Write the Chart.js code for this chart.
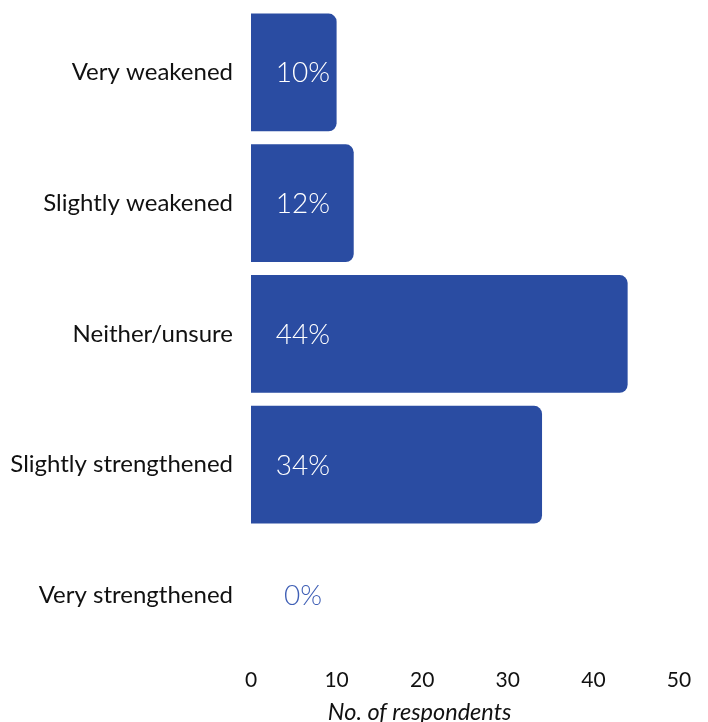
<!DOCTYPE html>
<html>
<head>
<meta charset="utf-8">
<script src="https://cdn.jsdelivr.net/npm/chart.js@4.4.0/dist/chart.umd.min.js"></script>
<style>
  html, body { margin: 0; padding: 0; background: #fff; }
  #wrap { width: 708px; height: 722px; }
</style>
</head>
<body>
<div id="wrap"><canvas id="chart"></canvas></div>
<script>
// categories and respondent counts
const categories = ['Very weakened', 'Slightly weakened', 'Neither/unsure', 'Slightly strengthened', 'Very strengthened'];
const respondents = [10, 12, 44, 34, 0];
const percentLabels = ['10%', '12%', '44%', '34%', '0%'];
const xTicks = [0, 10, 20, 30, 40, 50];
const axisTitle = 'No. of respondents';

const barColor = '#2a4ca2';

// percentage labels near the start of each bar, plus the x axis title
const percentPlugin = {
  id: 'percentLabels',
  afterDatasetsDraw(chart) {
    const ctx = chart.ctx;
    const meta = chart.getDatasetMeta(0);
    const xScale = chart.scales.x;
    ctx.save();
    ctx.font = '300 28px Lato';
    ctx.textAlign = 'center';
    ctx.textBaseline = 'middle';
    meta.data.forEach(function(bar, i) {
      ctx.fillStyle = respondents[i] > 0 ? '#ffffff' : '#3f5fb5';
      ctx.fillText(percentLabels[i], xScale.getPixelForValue(0) + 52, bar.y + 1);
    });
    ctx.font = 'italic 23.5px Lato';
    ctx.fillStyle = '#111';
    ctx.fillText(axisTitle, xScale.getPixelForValue(19.7), chart.height - 10);
    ctx.restore();
  }
};

new Chart(document.getElementById('chart'), {
  type: 'bar',
  data: {
    labels: categories,
    datasets: [{
      data: respondents,
      backgroundColor: barColor,
      borderRadius: 8,
      borderSkipped: 'start',
      barPercentage: 0.9,
      categoryPercentage: 1
    }]
  },
  options: {
    indexAxis: 'y',
    responsive: true,
    maintainAspectRatio: false,
    animation: false,
    layout: { padding: { top: 7, right: 29, bottom: 23, left: 10 } },
    plugins: {
      legend: { display: false },
      tooltip: { enabled: false }
    },
    scales: {
      x: {
        min: 0,
        max: 50,
        afterBuildTicks: function(axis) {
          axis.ticks = xTicks.map(function(v) { return { value: v }; });
        },
        grid: { display: false, drawTicks: false },
        border: { display: false },
        ticks: { color: '#111', font: { family: 'Lato', size: 21 }, padding: 6.5 }
      },
      y: {
        afterFit: function(scale) {
          scale.width = 241;
          scale.paddingTop = 0;
          scale.paddingBottom = 0;
        },
        grid: { display: false, drawTicks: false },
        border: { display: false },
        ticks: { color: '#111', font: { family: 'Lato', size: 24 }, padding: 18 }
      }
    }
  },
  plugins: [percentPlugin]
});
</script>
</body>
</html>
